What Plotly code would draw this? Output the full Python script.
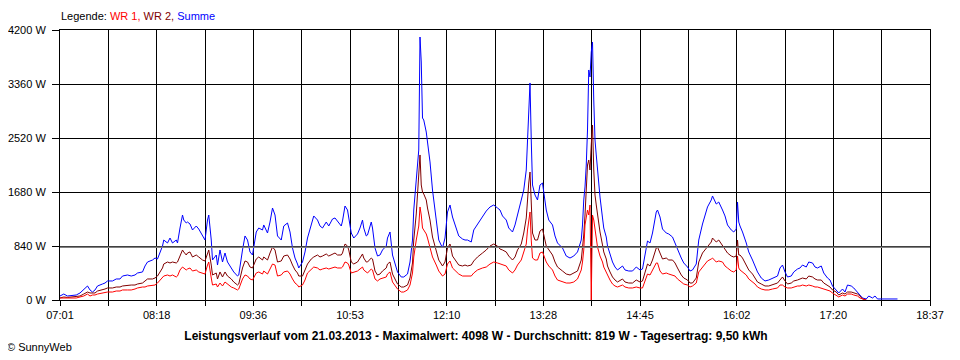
import plotly.graph_objects as go

# ---------------- data ----------------
times = ["07:01","07:04","07:07","07:11","07:14","07:17","07:20","07:23","07:25","07:27","07:29","07:31","07:35","07:37","07:39","07:43","07:46","07:49","07:51","07:55","07:58",
"08:01","08:03","08:07","08:09","08:11","08:15","08:17","08:19","08:21","08:23","08:24","08:27","08:29","08:31","08:34","08:35","08:37","08:39","08:40","08:42","08:43","08:45","08:47","08:50","08:52","08:55","08:57","08:59",
"09:00","09:02","09:03","09:06","09:07","09:09","09:11","09:13","09:15","09:18","09:20","09:23","09:24","09:27","09:29","09:31","09:33","09:35","09:38","09:40","09:43","09:44","09:47","09:49","09:51","09:53","09:55","09:58",
"10:00","10:03","10:05","10:07","10:09","10:11","10:12","10:15","10:17","10:19","10:22","10:24","10:27","10:29","10:31","10:34","10:36","10:39","10:41","10:43","10:46","10:47","10:49","10:51","10:52","10:54","10:56","10:59",
"11:01","11:03","11:04","11:06","11:07","11:10","11:11","11:13","11:15","11:17","11:19","11:22","11:23","11:25","11:27","11:29","11:31","11:34","11:36","11:39","11:41","11:43","11:44","11:46","11:47","11:48","11:49","11:50","11:51","11:52","11:54","11:55","11:57","11:59",
"12:02","12:04","12:07","12:09","12:11","12:13","12:15","12:18","12:20","12:23","12:25","12:27","12:30","12:32","12:35","12:39","12:42","12:45","12:48","12:51","12:53","12:55","12:58",
"13:00","13:03","13:05","13:07","13:10","13:12","13:14","13:15","13:16","13:17","13:18","13:19","13:21","13:23","13:25","13:27","13:30","13:32","13:35","13:37","13:39","13:43","13:46","13:49","13:52","13:55","13:58","13:59",
"14:00","14:01","14:02","14:03","14:04","14:05","14:06","14:07","14:08","14:09","14:10","14:11","14:13","14:15","14:16","14:18","14:19","14:21","14:23","14:25","14:27","14:31","14:33","14:36","14:39","14:42","14:45","14:47","14:49","14:51","14:53","14:55","14:58","14:59",
"15:01","15:03","15:06","15:08","15:11","15:13","15:15","15:18","15:20","15:23","15:25","15:27","15:30","15:32","15:35","15:37","15:39","15:42","15:43","15:46","15:48","15:51","15:53","15:55","15:58",
"16:00","16:02","16:03","16:04","16:05","16:07","16:10","16:12","16:15","16:17","16:19","16:22","16:25","16:28","16:31","16:35","16:37","16:39","16:41","16:43","16:46","16:48","16:51","16:53","16:55","16:58",
"17:00","17:03","17:05","17:07","17:10","17:12","17:15","17:17","17:19","17:22","17:24","17:27","17:29","17:31","17:34","17:36","17:39","17:41","17:43","17:46","17:48","17:51","17:53","17:55",
"18:05","18:11"]

summe = [62,93,62,78,78,109,156,218,156,124,156,218,249,264,296,296,327,327,373,389,373,
389,420,436,529,591,622,653,638,731,840,933,887,964,887,933,887,1120,1322,1244,1198,1213,1182,1089,1151,1104,996,933,1244,
1322,933,622,700,544,778,591,731,591,498,436,373,389,778,996,933,747,700,1058,1120,1089,1167,1042,1213,1431,1322,996,933,
1151,1198,1058,809,653,560,498,591,747,964,1151,1307,1244,1151,1120,1213,1151,1260,1276,1229,1151,1229,1462,1400,1276,1042,964,1027,
1120,1244,1120,996,1011,1213,1120,809,684,700,778,840,964,1058,700,544,436,358,358,404,591,933,1400,1867,2178,2333,4091,3702,2831,2800,2613,2458,2147,1711,
1244,933,809,964,1369,1478,1291,1120,996,949,933,933,902,1089,1182,1291,1384,1447,1478,1431,1400,1307,1244,
1120,1058,1167,1322,1509,1711,2022,2489,3049,3376,2489,1789,1633,1556,1789,1820,1400,1244,1167,996,887,809,684,653,684,747,933,1167,
1556,1758,2100,2644,3578,3469,3858,4013,3111,2489,2256,1991,1602,1276,1120,980,840,716,591,513,467,529,467,451,451,513,467,482,700,918,887,1042,1369,1400,
1291,1104,1042,1027,980,887,778,653,576,513,451,467,560,933,1182,1322,1447,1556,1618,1493,1524,1400,1307,1167,1089,
1058,1104,1524,1213,1151,1058,887,747,622,529,436,342,296,311,342,373,498,544,436,358,373,436,482,498,544,513,
591,576,513,498,529,420,342,311,218,156,109,171,124,233,218,187,124,78,31,16,62,31,62,16,
16,16]

wr2 = [31,47,40,47,47,62,93,124,109,109,109,140,156,171,187,187,202,202,218,233,233,
233,249,264,296,327,327,342,373,436,498,560,591,576,591,576,591,684,778,747,700,731,747,669,700,669,622,607,747,
778,544,389,420,327,436,358,436,373,327,280,233,249,498,607,591,513,498,638,669,622,669,622,731,824,778,591,607,
684,700,638,544,467,420,373,373,467,560,638,669,700,669,684,716,684,716,731,700,700,731,871,840,778,591,560,591,
653,716,653,591,591,653,638,451,389,404,451,498,560,591,404,327,249,202,202,233,342,576,933,1338,1633,1867,2256,1789,1680,1649,1556,1431,1244,980,
778,622,529,591,809,871,684,591,544,529,544,529,544,607,669,731,778,840,871,840,793,778,747,
684,622,669,778,871,1042,1276,1633,1820,1991,1400,1042,933,933,1073,1104,840,778,700,591,513,451,404,389,420,451,622,778,
1011,1322,1711,2100,2178,2022,2411,2722,2022,1633,1478,1322,1058,856,747,638,529,436,358,311,280,327,280,264,264,311,280,296,436,560,529,622,809,824,
731,638,653,622,622,576,498,389,342,311,264,264,342,591,731,778,824,902,964,902,933,840,778,731,684,
669,684,933,700,700,653,544,467,404,342,280,249,218,218,233,264,311,358,296,249,264,296,311,327,342,327,
373,358,327,311,311,264,218,202,156,124,78,109,93,124,124,109,93,62,16,0,None,None,None,None,
None,None]

wr1 = [31,31,25,31,31,47,62,93,62,78,78,93,109,109,124,124,140,140,156,156,156,
171,187,202,202,218,233,233,264,311,358,373,389,373,389,358,373,467,513,498,467,482,498,451,467,436,420,404,544,
591,342,233,249,202,264,218,280,249,202,187,156,171,327,389,373,327,311,420,436,404,451,404,482,560,544,373,389,
436,451,404,327,264,233,202,233,311,420,482,513,498,467,482,498,482,498,513,498,498,513,591,576,544,420,436,451,
482,513,467,436,420,482,467,327,296,327,342,358,404,436,280,233,171,124,124,156,233,420,669,933,1089,1151,1447,1322,1120,1089,1027,964,809,669,
544,451,373,404,560,607,498,436,404,373,373,373,373,420,467,498,513,560,591,576,560,544,529,
467,420,467,544,622,731,871,1089,1213,1369,933,653,622,622,731,747,591,529,467,373,311,280,264,264,280,327,467,591,
778,1167,1322,1400,1322,1478,0,1322,1244,1089,933,824,684,591,513,436,373,311,249,218,202,233,202,187,187,202,187,187,296,404,389,467,576,576,
451,404,420,404,389,373,327,280,249,233,202,218,264,436,513,560,607,638,653,591,607,591,529,498,451,
436,467,684,498,467,436,389,327,280,249,202,171,156,156,171,187,233,233,202,187,187,202,218,218,233,218,
233,218,202,202,187,171,156,140,109,78,47,78,62,93,93,78,62,31,16,0,None,None,None,None,
None,None]

series_names = ["WR 1", "WR 2", "Summe"]
series_colors = {"WR 1": "#FF0000", "WR 2": "#800000", "Summe": "#0000FF"}

x_tick_labels = ["07:01", "08:18", "09:36", "10:53", "12:10", "13:28", "14:45", "16:02", "17:20", "18:37"]
y_tick_values = [0, 840, 1680, 2520, 3360, 4200]
y_tick_labels = ["0 W", "840 W", "1680 W", "2520 W", "3360 W", "4200 W"]

datum = "21.03.2013"
max_w = 4098
avg_w = 819
ertrag_kwh = "9,50"

# ---------------- build figure ----------------
def to_min(t):
    h, m = t.split(":")
    return int(h) * 60 + int(m)

x = [to_min(t) for t in times]
x_start = to_min(x_tick_labels[0])
x_end = to_min(x_tick_labels[-1])
n_int = (len(x_tick_labels) - 1) * 2
tickvals = [x_start + (x_end - x_start) * k / n_int for k in range(n_int + 1)]
ticktext = [x_tick_labels[k // 2] if k % 2 == 0 else "" for k in range(n_int + 1)]

fig = go.Figure()
for name, vals in [("Summe", summe), ("WR 2", wr2), ("WR 1", wr1)]:
    fig.add_trace(go.Scatter(x=x, y=vals, mode="lines", name=name,
                             line=dict(color=series_colors[name], width=1),
                             connectgaps=False, hoverinfo="skip"))

# average line
fig.add_shape(type="line", xref="paper", x0=0, x1=1, yref="y", y0=avg_w, y1=avg_w,
              line=dict(color="#808080", width=1.5), layer="above")

# The page body has an 8px margin, so the figure is sized 952x352 and offset.
W, H, OFF = 952, 352, 8
font_fam = "Liberation Sans, Arial, sans-serif"
fig.update_layout(
    width=W, height=H,
    margin=dict(l=60 - OFF, r=W - (930 - OFF), t=30 - OFF, b=H - (300 - OFF)),
    plot_bgcolor="white", paper_bgcolor="white",
    font=dict(family=font_fam, size=11, color="black"),
    showlegend=False,
    title=dict(
        text=(f"<b>Leistungsverlauf vom {datum} - Maximalwert: {max_w} W - "
              f"Durchschnitt: {avg_w} W - Tagesertrag: {ertrag_kwh} kWh</b>"),
        x=(476 - OFF) / W, xref="container", xanchor="center",
        y=1 - (336 - OFF) / H, yref="container", yanchor="middle",
        font=dict(family=font_fam, size=12, color="black"),
    ),
)
fig.update_xaxes(range=[x_start, x_end], tickmode="array", tickvals=tickvals, ticktext=ticktext,
                 showgrid=True, gridcolor="black", gridwidth=1, zeroline=False,
                 showline=True, linecolor="black", linewidth=1, mirror=True, automargin=False,
                 ticks="outside", ticklen=5, tickcolor="black", tickfont=dict(size=11))
fig.update_yaxes(range=[0, 4200], tickmode="array", tickvals=y_tick_values, ticktext=y_tick_labels,
                 showgrid=True, gridcolor="black", gridwidth=1, zeroline=False,
                 showline=True, linecolor="black", linewidth=1, mirror=True, automargin=False,
                 ticks="outside", ticklen=7, tickcolor="black", ticklabelstandoff=4,
                 tickfont=dict(size=11))

legend_text = ("Legende: "
               f"<span style='color:{series_colors['WR 1']}'>WR 1,</span> "
               f"<span style='color:{series_colors['WR 2']}'>WR 2,</span> "
               f"<span style='color:{series_colors['Summe']}'>Summe</span>")
fig.add_annotation(text=legend_text, xref="paper", yref="paper", x=-1 / 870, y=(300 - 16) / 270,
                   xanchor="left", yanchor="middle", showarrow=False,
                   font=dict(family=font_fam, size=11, color="black"))
fig.add_annotation(text="© SunnyWeb", xref="paper", yref="paper", x=(5 - 60) / 870, y=(300 - 347) / 270,
                   xanchor="left", yanchor="middle", showarrow=False,
                   font=dict(family=font_fam, size=11, color="black"))

fig.write_html("out.html")
